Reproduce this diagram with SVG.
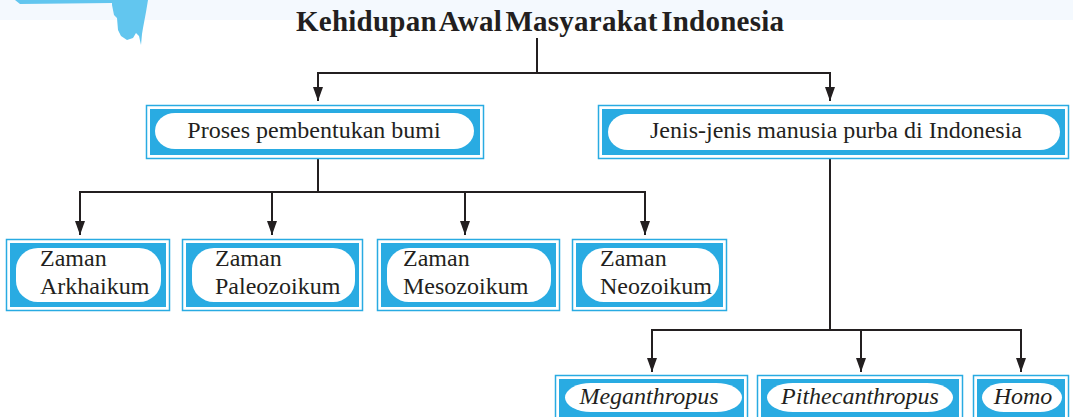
<svg xmlns="http://www.w3.org/2000/svg" width="1073" height="417" viewBox="0 0 1073 417">
  <defs>
    <style>
      .frame { fill: none; stroke: #29abe2; stroke-width: 1.5; }
      .band { fill: #29abe2; }
      .pill { fill: #ffffff; }
      .lbl { font-family: "Liberation Serif", "Times New Roman", serif; font-size: 24px; fill: #231f20; }
      .it { font-style: italic; }
      .title { font-family: "Liberation Serif", "Times New Roman", serif; font-size: 29px; font-weight: bold; word-spacing: -4px; fill: #231f20; }
      .wire { fill: none; stroke: #231f20; stroke-width: 2; }
    </style>
    <marker id="arrow" viewBox="0 0 14 10" refX="14" refY="5" markerWidth="15" markerHeight="10" markerUnits="userSpaceOnUse" orient="auto">
      <path d="M0,0 L14,5 L0,10 Z" fill="#231f20"/>
    </marker>
  </defs>

  <!-- page header tint and paint splash -->
  <rect x="0" y="0" width="1073" height="20" fill="#f4f9fe"/>
  <path d="M15,0 L148,0 L146,12 L143,28 L142,34 L141,45 L139,36 L136,33 L133,38 L127,40 L121,36 L118,30 L117,18 L114,15 L112,5 L112,3 L20,4 Z" fill="#62c6ef"/>

  <!-- title -->
  <g id="title">
    <text class="title" x="540" y="31" text-anchor="middle" textLength="488" lengthAdjust="spacing">Kehidupan Awal Masyarakat Indonesia</text>
  </g>

  <!-- connectors -->
  <g id="connectors">
    <path class="wire" d="M537,38 V73"/>
    <path class="wire" d="M318,73 H830"/>
    <path class="wire" d="M318,72 V101" marker-end="url(#arrow)"/>
    <path class="wire" d="M830,72 V101" marker-end="url(#arrow)"/>

    <path class="wire" d="M318,158 V192"/>
    <path class="wire" d="M79,192 H646"/>
    <path class="wire" d="M80,191 V235" marker-end="url(#arrow)"/>
    <path class="wire" d="M272,191 V235" marker-end="url(#arrow)"/>
    <path class="wire" d="M465,191 V235" marker-end="url(#arrow)"/>
    <path class="wire" d="M645,191 V235" marker-end="url(#arrow)"/>

    <path class="wire" d="M830,158 V330"/>
    <path class="wire" d="M651,330 H1022"/>
    <path class="wire" d="M652,329 V372" marker-end="url(#arrow)"/>
    <path class="wire" d="M861,329 V372" marker-end="url(#arrow)"/>
    <path class="wire" d="M1021,329 V372" marker-end="url(#arrow)"/>
  </g>

  <!-- level 1 -->
  <g id="proses">
    <rect class="frame" x="146.5" y="105.5" width="337" height="53"/>
    <rect class="band" x="150" y="109" width="330" height="46"/>
    <rect class="pill" x="155" y="113" width="319" height="36" rx="20" ry="18"/>
    <text class="lbl" x="314" y="138" text-anchor="middle">Proses pembentukan bumi</text>
  </g>

  <g id="jenis">
    <rect class="frame" x="598.5" y="105.5" width="470" height="53"/>
    <rect class="band" x="602" y="109" width="463" height="46"/>
    <rect class="pill" x="608" y="114" width="452" height="36" rx="20" ry="18"/>
    <text class="lbl" x="836" y="138" text-anchor="middle">Jenis-jenis manusia purba di Indonesia</text>
  </g>

  <!-- geological eras -->
  <g id="arkhaikum">
    <rect class="frame" x="6.5" y="239.5" width="163" height="71"/>
    <rect class="band" x="10" y="243" width="156" height="64"/>
    <rect class="pill" x="16" y="248" width="145" height="54" rx="22" ry="21"/>
    <text class="lbl" x="40" y="266">Zaman</text>
    <text class="lbl" x="40" y="294">Arkhaikum</text>
  </g>

  <g id="paleozoikum">
    <rect class="frame" x="182.5" y="239.5" width="180" height="71"/>
    <rect class="band" x="186" y="243" width="173" height="64"/>
    <rect class="pill" x="192" y="248" width="163" height="54" rx="22" ry="21"/>
    <text class="lbl" x="215" y="266">Zaman</text>
    <text class="lbl" x="215" y="294">Paleozoikum</text>
  </g>

  <g id="mesozoikum">
    <rect class="frame" x="377.5" y="239.5" width="182" height="71"/>
    <rect class="band" x="381" y="243" width="175" height="64"/>
    <rect class="pill" x="387" y="248" width="164" height="54" rx="22" ry="21"/>
    <text class="lbl" x="403" y="266">Zaman</text>
    <text class="lbl" x="403" y="294">Mesozoikum</text>
  </g>

  <g id="neozoikum">
    <rect class="frame" x="572.5" y="239.5" width="154" height="71"/>
    <rect class="band" x="576" y="243" width="147" height="64"/>
    <rect class="pill" x="582" y="248" width="137" height="54" rx="22" ry="21"/>
    <text class="lbl" x="600" y="266">Zaman</text>
    <text class="lbl" x="600" y="294">Neozoikum</text>
  </g>

  <!-- early humans -->
  <g id="meganthropus">
    <rect class="frame" x="555.5" y="375.5" width="192" height="46"/>
    <rect class="band" x="559" y="379" width="185" height="40"/>
    <rect class="pill" x="565" y="383" width="177" height="29" rx="26" ry="14.5"/>
    <text class="lbl it" x="649" y="404" text-anchor="middle">Meganthropus</text>
  </g>

  <g id="pithecanthropus">
    <rect class="frame" x="757.5" y="375.5" width="205" height="46"/>
    <rect class="band" x="761" y="379" width="198" height="40"/>
    <rect class="pill" x="767" y="383" width="186" height="29" rx="26" ry="14.5"/>
    <text class="lbl it" x="860" y="404" text-anchor="middle">Pithecanthropus</text>
  </g>

  <g id="homo">
    <rect class="frame" x="973.5" y="375.5" width="95" height="46"/>
    <rect class="band" x="977" y="379" width="88" height="40"/>
    <rect class="pill" x="982" y="383" width="80" height="29" rx="22" ry="14.5"/>
    <text class="lbl it" x="1023" y="404" text-anchor="middle">Homo</text>
  </g>
</svg>
